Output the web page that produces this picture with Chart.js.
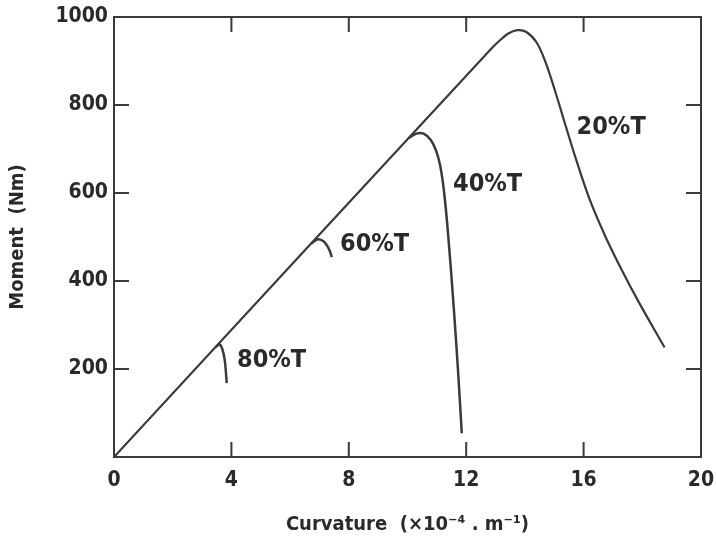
<!DOCTYPE html>
<html>
<head>
<meta charset="utf-8">
<script src="https://cdn.jsdelivr.net/npm/chart.js@4.4.1/dist/chart.umd.min.js"></script>
<style>
  html, body { margin: 0; padding: 0; background: #fff; }
</style>
</head>
<body>
<canvas id="chart" width="716" height="540"></canvas>
<script>
// curva principal (20%T) - parte reta + pico + queda
const curvatura20 = [0, 12.9, 13.2, 13.45, 13.75, 14.05, 14.4, 14.7, 15.06, 15.41, 15.76, 16.22, 16.75, 17.3, 17.88, 18.76];
const momento20 = [0, 931, 950, 963, 970, 966, 942, 898, 825, 748, 673, 583, 500, 425, 352, 249];

const curvatura40 = [10.05, 10.3, 10.55, 10.8, 10.98, 11.12, 11.25, 11.39, 11.565, 11.72, 11.85];
const momento40 = [725, 735, 735, 720, 695, 660, 600, 501, 349, 198, 54];

const curvatura60 = [6.72, 6.95, 7.15, 7.28, 7.36, 7.42];
const momento60 = [485, 495, 490, 478, 467, 454];

const curvatura80 = [3.47, 3.6, 3.7, 3.77, 3.81, 3.84];
const momento80 = [250, 256, 243, 222, 195, 168];

const ticksX = [0, 4, 8, 12, 16, 20];
const ticksY = [0, 200, 400, 600, 800, 1000];

const etiquetas = ['20%T', '40%T', '60%T', '80%T'];
const etiquetaX = [15.76, 11.55, 7.7, 4.19];
const etiquetaY = [749, 619, 484, 220];

const fonte = "'DejaVu Sans Condensed', 'DejaVu Sans', sans-serif";
const corLinha = '#3a3a3a';

function pontos(xs, ys) {
  return xs.map((x, i) => ({ x: x, y: ys[i] }));
}

function serie(xs, ys, largura) {
  return {
    data: pontos(xs, ys),
    borderColor: corLinha,
    borderWidth: largura,
    pointRadius: 0,
    fill: false,
    tension: 0.35
  };
}

// moldura com ticks para dentro nos quatro lados + rótulos das curvas
const molduraPlugin = {
  id: 'moldura',
  afterDatasetsDraw(chart) {
    const { ctx, chartArea: a, scales } = chart;
    const tam = 15;
    ctx.save();
    ctx.strokeStyle = corLinha;
    ctx.lineWidth = 2;
    ctx.strokeRect(a.left, a.top, a.right - a.left, a.bottom - a.top);
    ctx.beginPath();
    ticksX.slice(1, -1).forEach(v => {
      const px = scales.x.getPixelForValue(v);
      ctx.moveTo(px, a.bottom); ctx.lineTo(px, a.bottom - tam);
      ctx.moveTo(px, a.top); ctx.lineTo(px, a.top + tam);
    });
    ticksY.slice(1, -1).forEach(v => {
      const py = scales.y.getPixelForValue(v);
      ctx.moveTo(a.left, py); ctx.lineTo(a.left + tam, py);
      ctx.moveTo(a.right, py); ctx.lineTo(a.right - tam, py);
    });
    ctx.stroke();

    ctx.fillStyle = '#2a2a2a';
    ctx.font = 'bold 25px ' + fonte;
    ctx.textAlign = 'left';
    ctx.textBaseline = 'middle';
    etiquetas.forEach((t, i) => {
      ctx.fillText(t, scales.x.getPixelForValue(etiquetaX[i]), scales.y.getPixelForValue(etiquetaY[i]));
    });
    ctx.restore();
  }
};

const ctx = document.getElementById('chart').getContext('2d');
new Chart(ctx, {
  type: 'line',
  data: {
    datasets: [
      serie(curvatura20, momento20, 2.2),
      serie(curvatura40, momento40, 2.5),
      serie(curvatura60, momento60, 2.5),
      serie(curvatura80, momento80, 2.5)
    ]
  },
  options: {
    responsive: false,
    animation: false,
    layout: { padding: { top: 17, right: 15, left: 0, bottom: 0 } },
    plugins: {
      legend: { display: false },
      tooltip: { enabled: false }
    },
    scales: {
      x: {
        type: 'linear',
        min: 0,
        max: 20,
        afterBuildTicks: s => { s.ticks = ticksX.map(v => ({ value: v })); },
        afterFit: s => { s.height = 83; s.paddingLeft = 0; s.paddingRight = 0; },
        grid: { display: false, drawTicks: false },
        border: { display: false },
        ticks: {
          color: '#2a2a2a',
          font: { family: fonte, size: 21, weight: 'bold' },
          padding: 11,
          maxRotation: 0
        },
        title: {
          display: true,
          text: 'Curvature  (×10⁻⁴ . m⁻¹)',
          color: '#2a2a2a',
          font: { family: fonte, size: 20, weight: 'bold' },
          padding: { top: 0, bottom: 3 }
        }
      },
      y: {
        type: 'linear',
        min: 0,
        max: 1000,
        afterBuildTicks: s => { s.ticks = ticksY.map(v => ({ value: v })); },
        afterFit: s => { s.width = 114; s.paddingTop = 0; s.paddingBottom = 0; },
        grid: { display: false, drawTicks: false },
        border: { display: false },
        ticks: {
          color: '#2a2a2a',
          font: { family: fonte, size: 21, weight: 'bold' },
          padding: 6,
          callback: v => (v === 0 ? '' : v)
        },
        title: {
          display: true,
          text: 'Moment  (Nm)',
          color: '#2a2a2a',
          font: { family: fonte, size: 20, weight: 'bold' },
          padding: { top: 6, bottom: 0 }
        }
      }
    }
  },
  plugins: [molduraPlugin]
});
</script>
</body>
</html>
